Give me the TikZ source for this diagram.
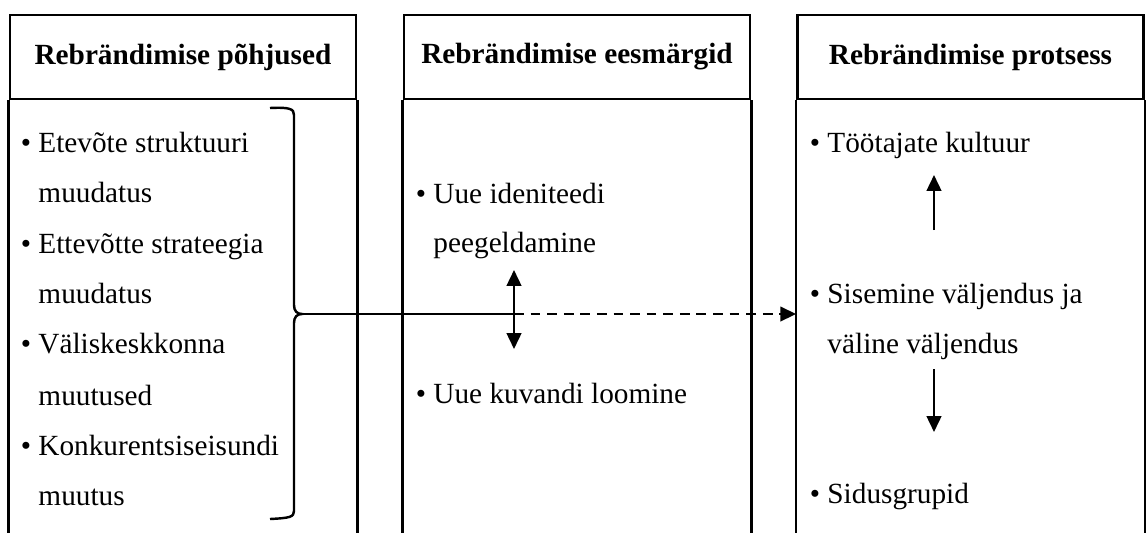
\documentclass[tikz,border=0pt]{standalone}
\usepackage{fontspec}
\setmainfont{Liberation Serif}
\usetikzlibrary{arrows.meta}
\tikzset{titre/.style={
    draw=black, line width=1.1pt,
    minimum width=141.9pt, minimum height=34.4pt,
    font=\fontsize{12}{14}\selectfont\bfseries},
  texte/.style={
    anchor=base west, inner sep=0pt,
    font=\fontsize{12}{14}\selectfont},
  fleche/.style={
    line width=0.9pt,
    -{Triangle[length=6.5pt,width=6pt]}},
  fleches/.style={
    line width=0.9pt,
    {Triangle[length=6.5pt,width=6pt]}-{Triangle[length=6.5pt,width=6pt]}}}
\newcommand{\puce}{\llap{\textbullet\hspace{3pt}}}

\begin{document}
\begin{tikzpicture}[x=0.41pt,y=-0.41pt]
	\useasboundingbox (0,0) rectangle (1146,532);
\coordinate (P) at (183,57);
\coordinate (E) at (577,57);
\coordinate (T) at (970.5,57);
\coordinate (pointe) at (302,314);
\coordinate (milieu) at (514,314);

\node[titre] (pohj) at (P) {Rebrändimise põhjused};
\node[titre] (eesm) at (E) {Rebrändimise eesmärgid};
\node[titre] (prot) at (T) {Rebrändimise protsess};
\path[draw=black, line width=1.1pt] (pohj.south west) -- ++(0,460) (pohj.south east) -- ++(0,460)
  (eesm.south west) -- ++(0,460) (eesm.south east) -- ++(0,460)
  (prot.south west) -- ++(0,460) (prot.south east) -- ++(0,460);

\node[texte] (p1) at (38,152) {\puce Etevõte struktuuri};
\node[texte] (p1b) at (38,202) {muudatus};
\node[texte] (p2) at (38,253) {\puce Ettevõtte strateegia};
\node[texte] (p2b) at (38,303) {muudatus};
\node[texte] (p3) at (38,353) {\puce Väliskeskkonna};
\node[texte] (p3b) at (38,405) {muutused};
\node[texte] (p4) at (38,455) {\puce Konkurentsiseisundi};
\node[texte] (p4b) at (38,505) {muutus};

\node[texte] (e1) at (433,203) {\puce Uue ideniteedi};
\node[texte] (e1b) at (433,252) {peegeldamine};
\node[texte] (e2) at (433,403) {\puce Uue kuvandi loomine};

\node[texte] (t1) at (827,152) {\puce Töötajate kultuur};
\node[texte] (t2) at (827,303) {\puce Sisemine väljendus ja};
\node[texte] (t2b) at (827,353) {väline väljendus};
\node[texte] (t3) at (827,503) {\puce Sidusgrupid};

% sulg
\path[draw=black, line width=1pt] (270,108) .. controls (290,107) and (294,109) .. (294,115)
  -- (294,305) .. controls (294,311) and (297,314) .. (pointe)
  .. controls (297,314) and (294,317) .. (294,323)
  -- (294,511) .. controls (294,517) and (290,518) .. (270,519);

\draw[line width=0.9pt] (pointe) -- (milieu);
\draw[fleche, dash pattern=on 4pt off 2.8pt] (milieu) -- (prot.south west |- pointe);
\draw[fleches] (514,270) -- (514,349);
\draw[fleche] (934,230) -- (934,175);
\draw[fleche] (934,369) -- (934,432);

\end{tikzpicture}
\end{document}
